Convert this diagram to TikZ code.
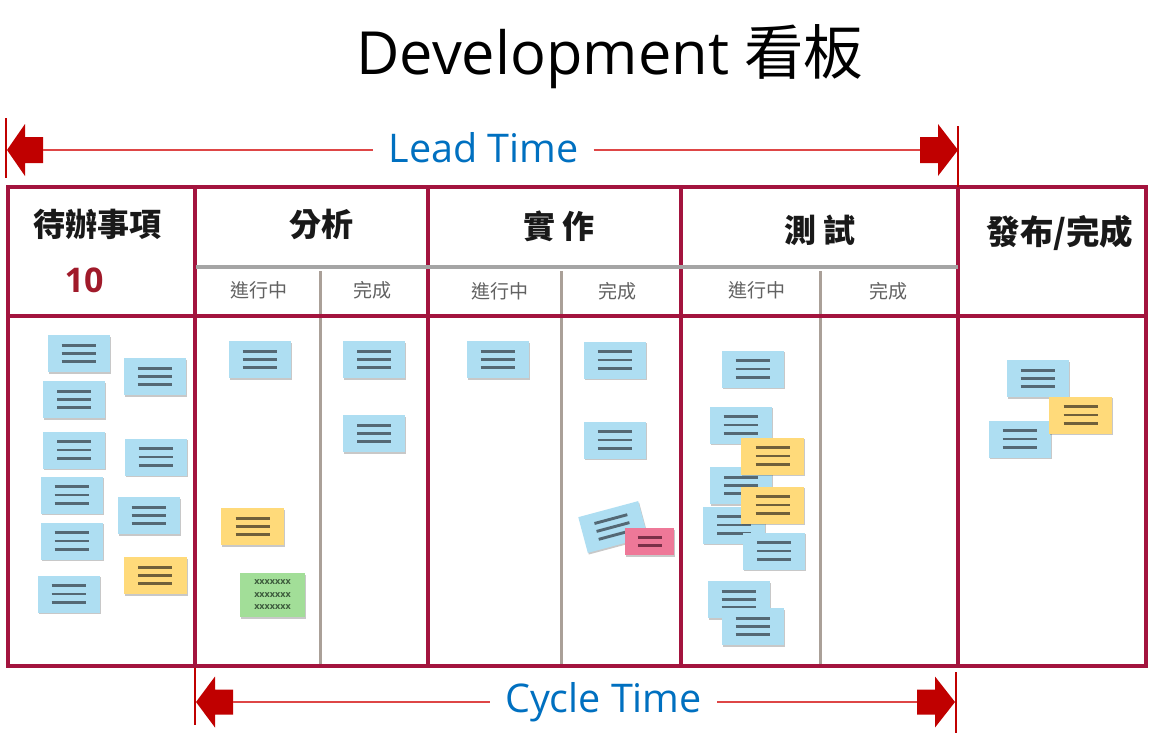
\documentclass[tikz,border=0pt]{standalone}
\usepackage{fontspec}
\usetikzlibrary{shadows}
\newfontfamily\cjk{Noto Sans CJK TC}
\newfontfamily\lat{Open Sans}
\definecolor{crimson}{RGB}{163,20,62}
\definecolor{tblue}{RGB}{0,112,192}
\definecolor{ared}{RGB}{192,0,0}
\definecolor{tred}{RGB}{222,70,70}
\definecolor{hgray}{RGB}{165,165,165}
\definecolor{sgray}{RGB}{170,160,152}
\definecolor{cardblue}{RGB}{174,222,242}
\definecolor{lineblue}{RGB}{84,104,116}
\definecolor{cardyellow}{RGB}{255,218,122}
\definecolor{lineyellow}{RGB}{112,96,58}
\definecolor{cardgreen}{RGB}{162,222,152}
\definecolor{linegreen}{RGB}{60,90,60}
\definecolor{cardpink}{RGB}{238,120,152}
\definecolor{linepink}{RGB}{122,48,72}
\definecolor{numred}{RGB}{160,26,42}
\newcommand\threelines[1]{\textcolor{#1}{\vbox{\hrule width 34pt height 2.9pt\vskip5.3pt\hrule width 34pt height 2.9pt\vskip5.3pt\hrule width 34pt height 2.9pt}}}
\newcommand\twolines[1]{\textcolor{#1}{\vbox{\hrule width 24pt height 2.9pt\vskip5pt\hrule width 24pt height 2.9pt}}}
\begin{document}
\begin{tikzpicture}[x=1pt,y=-1pt,
  card/.style={rectangle, inner sep=0pt, minimum width=62pt, minimum height=37pt,
    drop shadow={shadow xshift=1pt, shadow yshift=-1.6pt, opacity=0.3, fill=black!70}},
  bcard/.style={card, fill=cardblue},
  ycard/.style={card, fill=cardyellow, minimum width=63pt},
  board/.style={draw=crimson, line width=4pt},
  hline/.style={draw=hgray, line width=3.5pt},
  sline/.style={draw=sgray, line width=3pt},
  head/.style={font=\cjk\fontsize{32}{36}\selectfont\bfseries, text=black!90},
  sub/.style={font=\cjk\fontsize{19}{22}\selectfont, text=black!62},
  timelabel/.style={font=\lat\fontsize{39.5}{46}\selectfont, text=tblue, inner xsep=15pt, inner ysep=0pt},
  arrowfill/.style={fill=ared},
  thin/.style={draw=tred, line width=1.2pt},
  vmark/.style={draw=ared, line width=1.4pt},
]
\useasboundingbox (0,0) rectangle (1161,737);
\fill[white] (0,0) rectangle (1161,737);

% title
\node (title) at (610,57) {\fontsize{59.5}{66}\selectfont\lat Development {\cjk 看板}};

% board grid coordinates
\coordinate (TL) at (8,187);
\coordinate (BR) at (1146,666);

% subcolumn lines
\draw[sline] (320,271) -- (320,665);
\draw[sline] (561,271) -- (561,665);
\draw[sline] (820,271) -- (820,665);

% board frame
\draw[board] (TL) rectangle (BR);
\draw[board] (8,316) -- (1146,316);
\foreach \x in {195,428,681,958} \draw[board] (\x,187) -- (\x,666);
\draw[hline] (196,267) -- (958,267);

% headers
\node[head] (h1) at (97,224) {待辦事項};
\node[font=\lat\fontsize{34}{38}\selectfont, text=numred] (cnt) at (84,280) {\textbf{10}};
\node[head] (h2) at (321,224) {分析};
\node[head] (h3) at (559,226) {實 作};
\node[head] (h4) at (820,230) {測 試};
\node[head, font=\cjk\fontsize{33.5}{36}\selectfont\bfseries] (h5) at (1060,233) {發布/完成};

\node[sub] (s1) at (259,290) {進行中};
\node[sub] (s2) at (372,290) {完成};
\node[sub] (s3) at (500,291) {進行中};
\node[sub] (s4) at (617,291) {完成};
\node[sub] (s5) at (757,290) {進行中};
\node[sub] (s6) at (888,291) {完成};

% backlog cards
\node[bcard] (c1) at (78.5,353.5) {\threelines{lineblue}};
\node[bcard] (c2) at (154.5,376.5) {\threelines{lineblue}};
\node[bcard] (c3) at (74,399.5) {\threelines{lineblue}};
\node[bcard] (c4) at (74,450) {\threelines{lineblue}};
\node[bcard] (c5) at (155.5,457) {\threelines{lineblue}};
\node[bcard] (c6) at (71.5,495) {\threelines{lineblue}};
\node[bcard] (c7) at (148.5,515.5) {\threelines{lineblue}};
\node[bcard] (c8) at (71.5,541) {\threelines{lineblue}};
\node[ycard] (c9) at (155,575.5) {\threelines{lineyellow}};
\node[bcard] (c10) at (68.5,594) {\threelines{lineblue}};

% analysis
\node[bcard] (c11) at (259.5,359.5) {\threelines{lineblue}};
\node[ycard] (c12) at (252.5,526.5) {\threelines{lineyellow}};
\node[card, fill=cardgreen, minimum width=65pt, minimum height=44pt,
  font=\lat\fontsize{9}{12.5}\selectfont\bfseries, text=linegreen, align=center] (c13) at (272.5,595) {xxxxxxx\\xxxxxxx\\xxxxxxx};
\node[bcard] (c14) at (374,359.5) {\threelines{lineblue}};
\node[bcard] (c15) at (374,433.5) {\threelines{lineblue}};

% implementation
\node[bcard] (c16) at (497.5,359.5) {\threelines{lineblue}};
\node[bcard] (c17) at (614.5,360) {\threelines{lineblue}};
\node[bcard] (c18) at (614.5,440) {\threelines{lineblue}};
\node[bcard, rotate=15] (c19) at (613,527) {\threelines{lineblue}};
\node[card, fill=cardpink, minimum width=49pt, minimum height=27pt] (c20) at (649.5,541.5) {\twolines{linepink}};

% testing
\node[bcard] (c21) at (752.5,369) {\threelines{lineblue}};
\node[bcard] (c22) at (740.5,425) {\threelines{lineblue}};
\node[bcard] (c24) at (741,485.5) {\threelines{lineblue}};
\node[ycard] (c23) at (772.5,456) {\threelines{lineyellow}};
\node[bcard] (c26) at (734,525) {\threelines{lineblue}};
\node[ycard] (c25) at (772.5,505) {\threelines{lineyellow}};
\node[bcard] (c27) at (774,551) {\threelines{lineblue}};
\node[bcard] (c28) at (738.5,599.5) {\threelines{lineblue}};
\node[bcard] (c29) at (752.5,626.5) {\threelines{lineblue}};

% done
\node[bcard] (c30) at (1037.5,378.5) {\threelines{lineblue}};
\node[bcard] (c31) at (1019.5,439) {\threelines{lineblue}};
\node[ycard] (c32) at (1080.5,415) {\threelines{lineyellow}};

% Lead time
\node[timelabel] (lead) at (483.5,148) {Lead Time};
\coordinate (leadL) at (7,150);
\coordinate (leadR) at (958,150);
\draw[vmark] (6,118) -- (6,178);
\draw[vmark] (958,126) -- (958,187);
\fill[arrowfill] (leadL) -- ++(18,-26) -- ++(0,13) -- ++(18,0) -- ++(0,26) -- ++(-18,0) -- ++(0,13) -- cycle;
\fill[arrowfill] (leadR) -- ++(-20,-26) -- ++(0,13) -- ++(-18,0) -- ++(0,26) -- ++(18,0) -- ++(0,13) -- cycle;
\draw[thin] ([xshift=36pt]leadL) -- (lead.west |- leadL);
\draw[thin] (lead.east |- leadR) -- ([xshift=-38pt]leadR);

% Cycle time
\node[timelabel] (cycle) at (603.5,702) {Cycle Time};
\coordinate (cycL) at (196,702);
\coordinate (cycR) at (955,702);
\draw[vmark] (195,668) -- (195,725);
\draw[vmark] (956,672) -- (956,733);
\fill[arrowfill] (cycL) -- ++(19,-25.5) -- ++(0,13) -- ++(18,0) -- ++(0,25) -- ++(-18,0) -- ++(0,13) -- cycle;
\fill[arrowfill] (cycR) -- ++(-20,-25.5) -- ++(0,13) -- ++(-18,0) -- ++(0,25) -- ++(18,0) -- ++(0,13) -- cycle;
\draw[thin] ([xshift=37pt]cycL) -- (cycle.west |- cycL);
\draw[thin] (cycle.east |- cycR) -- ([xshift=-38pt]cycR);
\end{tikzpicture}
\end{document}
